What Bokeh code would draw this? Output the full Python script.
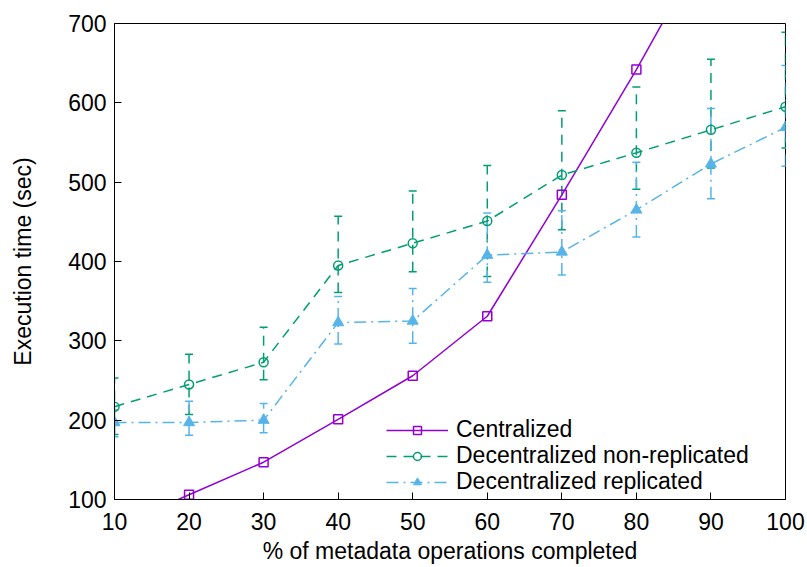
from bokeh.plotting import figure
from bokeh.models import ColumnDataSource, Range1d, FixedTicker, Whisker, TeeHead, Legend, LegendItem
from bokeh.embed import file_html
from bokeh.resources import INLINE

# ---- data ----
pct = [10, 20, 30, 40, 50, 60, 70, 80, 90, 100]
centralized = [65, 106, 147, 201, 256, 331, 484, 642, 810, 990]
nonrep = [217, 245, 273, 395, 423, 451, 509, 537, 566, 595]
nonrep_lo = [182, 207, 251, 361, 387, 381, 440, 491, 518, 543]
nonrep_hi = [253, 283, 317, 457, 489, 521, 590, 620, 655, 689]
rep = [197, 197, 200, 323, 325, 408, 412, 465, 523, 569]
rep_lo = [179, 181, 184, 296, 297, 374, 383, 431, 479, 520]
rep_hi = [213, 224, 221, 356, 366, 461, 464, 525, 593, 647]
x_ticks = [10, 20, 30, 40, 50, 60, 70, 80, 90, 100]
y_ticks = [100, 200, 300, 400, 500, 600, 700]
series_labels = ["Centralized", "Decentralized non-replicated", "Decentralized replicated"]

C_PURPLE = "#9400D3"
C_GREEN = "#009E73"
C_CYAN = "#56B4E9"
FONT = "Liberation Sans"
FS = "23px"

src = ColumnDataSource(dict(x=pct, c=centralized, n=nonrep, nlo=nonrep_lo, nhi=nonrep_hi,
                            r=rep, rlo=rep_lo, rhi=rep_hi))

p = figure(width=807, height=567, output_backend="svg", toolbar_location=None,
           x_range=Range1d(10, 100), y_range=Range1d(100, 700),
           min_border_left=114, min_border_right=22, min_border_top=23, min_border_bottom=68)
p.background_fill_color = "white"
p.border_fill_color = "white"
p.outline_line_color = "black"
p.outline_line_width = 1
p.outline_line_alpha = 1
p.xgrid.visible = False
p.ygrid.visible = False

for ax in (p.xaxis[0], p.yaxis[0]):
    ax.major_tick_in = 7
    ax.major_tick_out = 0
    ax.minor_tick_in = 0
    ax.minor_tick_out = 0
    ax.axis_line_color = "black"
    ax.major_tick_line_color = "black"
    ax.major_label_text_font = FONT
    ax.major_label_text_font_size = FS
    ax.major_label_text_color = "black"
    ax.axis_label_text_font = FONT
    ax.axis_label_text_font_size = FS
    ax.axis_label_text_font_style = "normal"
    ax.axis_label_text_color = "black"

p.xaxis.ticker = FixedTicker(ticks=x_ticks)
p.yaxis.ticker = FixedTicker(ticks=y_ticks)
p.xaxis.axis_label = "% of metadata operations completed"
p.yaxis.axis_label = "Execution time (sec)"
p.xaxis.major_label_standoff = 13
p.xaxis.axis_label_standoff = 5
p.yaxis.major_label_standoff = 8
p.yaxis.axis_label_standoff = 29

# error bars
w1 = Whisker(source=src, base="x", lower="nlo", upper="nhi",
             line_color=C_GREEN, line_width=1.5, line_dash="10 7",
             upper_head=TeeHead(size=8, line_color=C_GREEN, line_width=1.5),
             lower_head=TeeHead(size=8, line_color=C_GREEN, line_width=1.5))
w2 = Whisker(source=src, base="x", lower="rlo", upper="rhi",
             line_color=C_CYAN, line_width=1.5, line_dash="12 5 2 5",
             upper_head=TeeHead(size=8, line_color=C_CYAN, line_width=1.5),
             lower_head=TeeHead(size=8, line_color=C_CYAN, line_width=1.5))
p.add_layout(w1)
p.add_layout(w2)

l1 = p.line("x", "c", source=src, line_color=C_PURPLE, line_width=1.5)
m1 = p.scatter("x", "c", source=src, marker="square", size=9, fill_color=None,
               line_color=C_PURPLE, line_width=1.5)
l2 = p.line("x", "n", source=src, line_color=C_GREEN, line_width=1.5, line_dash="10 7")
m2 = p.scatter("x", "n", source=src, marker="circle", size=9, fill_color=None,
               line_color=C_GREEN, line_width=1.5)
l3 = p.line("x", "r", source=src, line_color=C_CYAN, line_width=1.5, line_dash="12 5 2 5")
m3 = p.scatter("x", "r", source=src, marker="triangle", size=11, fill_color=C_CYAN,
               line_color=C_CYAN, line_width=1)

# one legend per row (pitch chosen so the text boxes do not overlap)
rows = [(series_labels[0], [l1, m1], 56),
        (series_labels[1], [l2, m2], 30),
        (series_labels[2], [l3, m3], 4)]
for label, rends, yoff in rows:
    lg = Legend(items=[LegendItem(label=label, renderers=rends)], location=(272, yoff))
    lg.border_line_color = None
    lg.background_fill_alpha = 0
    lg.label_text_font = FONT
    lg.label_text_font_size = FS
    lg.label_text_color = "black"
    lg.glyph_width = 62
    lg.glyph_height = 20
    lg.label_height = 23
    lg.padding = 4
    lg.margin = 0
    lg.label_standoff = 8
    p.add_layout(lg)

open("out.html", "w").write(file_html(p, INLINE))
